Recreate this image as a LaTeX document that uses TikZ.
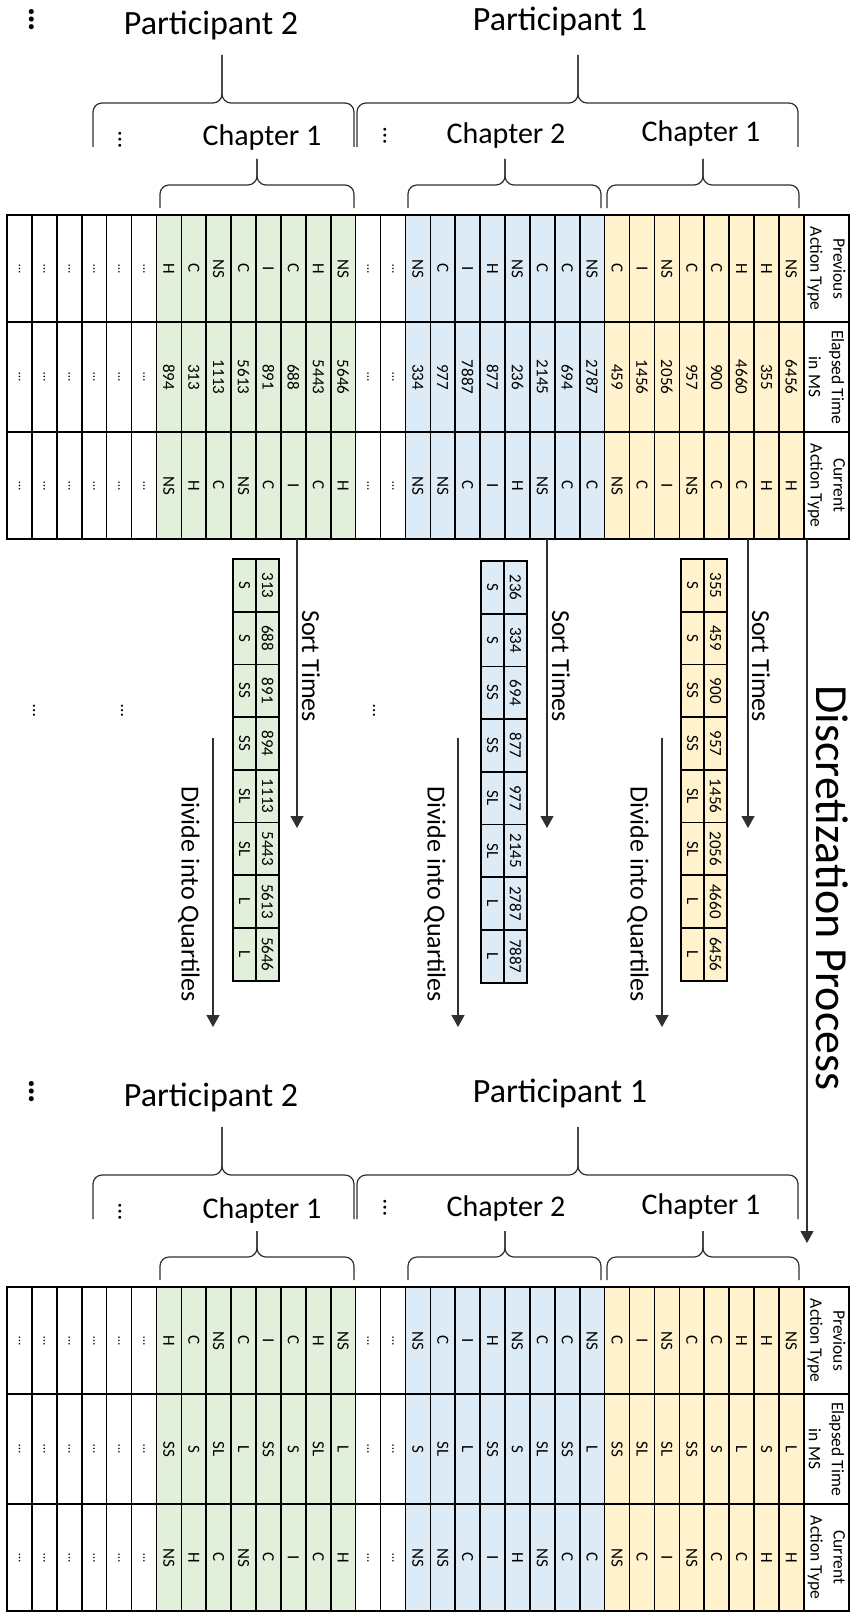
\documentclass[tikz,border=0pt]{standalone}
\usepackage{fontspec}
\setmainfont{Carlito}
\usetikzlibrary{arrows.meta}
\definecolor{cy}{HTML}{FFF2CC}
\definecolor{cb}{HTML}{DDEBF7}
\definecolor{cg}{HTML}{E2EFDA}
\definecolor{ln}{HTML}{303030}
\tikzset{
 val/.style={font=\fontsize{17}{20}\selectfont, rotate=-90, inner sep=0pt},
 sval/.style={font=\fontsize{17}{20}\selectfont, rotate=-90, inner sep=0pt},
 hdr/.style={font=\fontsize{17.5}{23}\selectfont, rotate=-90, align=center, inner sep=0pt},
 celldots/.style={font=\fontsize{13}{15}\selectfont, rotate=-90, inner sep=0pt},
 bigdots/.style={font=\fontsize{24}{28}\selectfont, rotate=-90, inner sep=0pt},
 part/.style={font=\fontsize{34}{40}\selectfont, inner sep=0pt},
 chap/.style={font=\fontsize{30}{36}\selectfont, inner sep=0pt},
 lbl/.style={font=\fontsize{26}{31}\selectfont, rotate=-90, inner sep=0pt},
 title/.style={font=\fontsize{46}{54}\selectfont, rotate=-90, inner sep=0pt},
 arr/.style={draw=ln, line width=1.3pt, -{Triangle[length=12pt,width=13pt]}},
 gridline/.style={draw=black, line width=1.6pt},
 border/.style={draw=black, line width=2pt},
 brc/.style={draw=ln, line width=1.2pt, rounded corners=9pt},
}
\newcommand\datastrip[6]{%
 \pgfmathsetmacro\xc{7+#2*24.9+12.45}%
 \fill[#3] (\xc-12.45,215) rectangle (\xc+12.45,539);
 \node[val] (#1-#2-p) at (\xc,268.5) {#4};
 \node[val] (#1-#2-e) at (\xc,377) {#5};
 \node[val] (#1-#2-c) at (\xc,485.5) {#6};
}
\newcommand\dotstrip[2]{%
 \pgfmathsetmacro\xc{7+#2*24.9+12.45}%
 \node[celldots] (#1-#2-p) at (\xc,268.5) {…};
 \node[celldots] (#1-#2-e) at (\xc,377) {…};
 \node[celldots] (#1-#2-c) at (\xc,485.5) {…};
}
\newcommand\bigtable[4]{%
 \foreach \i in {0,1,2,3,4,5,14,15} {\dotstrip{#1}{\i}}
 \foreach \p/\e/\c [count=\k from 6] in {#2} {\datastrip{#1}{\k}{cg}{\p}{\e}{\c}}
 \foreach \p/\e/\c [count=\k from 16] in {#3} {\datastrip{#1}{\k}{cb}{\p}{\e}{\c}}
 \foreach \p/\e/\c [count=\k from 24] in {#4} {\datastrip{#1}{\k}{cy}{\p}{\e}{\c}}
 \node[hdr] (#1-h1) at (826.4,268.5) {Previous\\Action Type};
 \node[hdr] (#1-h2) at (826.4,377) {Elapsed Time\\in MS};
 \node[hdr] (#1-h3) at (826.4,485.5) {Current\\Action Type};
 \foreach \i in {1,...,32} {\draw[gridline] (7+\i*24.9,215) -- (7+\i*24.9,539);}
 \draw[gridline] (7,322) -- (849,322);
 \draw[gridline] (7,432) -- (849,432);
 \draw[border] (7,215) rectangle (849,539);
}
\newcommand\smalltable[5]{%
 \foreach \n/\l [count=\k from 0] in {#5} {
  \fill[#4] (#2,#3+\k*52.7) rectangle (#2+46,#3+\k*52.7+52.7);
  \node[sval] (#1-\k-n) at (#2+34.5,#3+\k*52.7+26.35) {\n};
  \node[sval] (#1-\k-l) at (#2+11.5,#3+\k*52.7+26.35) {\l};
 }
 \foreach \k in {1,...,7} {\draw[gridline] (#2,#3+\k*52.7) -- (#2+46,#3+\k*52.7);}
 \draw[gridline] (#2+23,#3) -- (#2+23,#3+421.6);
 \draw[border] (#2,#3) rectangle (#2+46,#3+421.6);
}
\newcommand\ubrace[6]{% x1 x2 xm ybottom yhoriz ytip
 \draw[brc] (#1,#4) -- (#1,#5) -- (#3,#5) -- (#3,#6);
 \draw[brc] (#3,#6) -- (#3,#5) -- (#2,#5) -- (#2,#4);
}
\newcommand\headers[1]{%
 \node[part,font=\fontsize{34}{40}\selectfont\bfseries, rotate=-90] (#1-d0) at (32,20) {…};
 \node[part] (#1-p2) at (211,25) {Participant 2};
 \node[part] (#1-p1) at (560,21) {Participant 1};
 \ubrace{93}{354}{222}{147}{103}{55}
 \ubrace{357}{798}{578}{147}{103}{55}
 \node[bigdots] (#1-d1) at (120,140) {…};
 \node[bigdots] (#1-d2) at (385,136) {…};
 \node[chap] (#1-c21) at (262,138) {Chapter 1};
 \node[chap] (#1-c12) at (506,136) {Chapter 2};
 \node[chap] (#1-c11) at (701,134) {Chapter 1};
 \ubrace{160}{354}{257}{208}{185}{159}
 \ubrace{408}{601}{505}{208}{185}{159}
 \ubrace{607}{799}{703}{208}{185}{159}
}
\begin{document}
\begin{tikzpicture}[x=1pt,y=-1pt]
\useasboundingbox (0,0) rectangle (851,1616);
\fill[white] (0,0) rectangle (851,1616);
% top section
\headers{T}
\bigtable{T}{H/894/NS, C/313/H, NS/1113/C, C/5613/NS, I/891/C, C/688/I, H/5443/C, NS/5646/H}
 {NS/334/NS, C/977/NS, I/7887/C, H/877/I, NS/236/H, C/2145/NS, C/694/C, NS/2787/C}
 {C/459/NS, I/1456/C, NS/2056/I, C/957/NS, C/900/C, H/4660/C, H/355/H, NS/6456/H}
% sorted tables
\smalltable{SY}{681}{559}{cy}{355/S, 459/S, 900/SS, 957/SS, 1456/SL, 2056/SL, 4660/L, 6456/L}
\smalltable{SB}{481}{561}{cb}{236/S, 334/S, 694/SS, 877/SS, 977/SL, 2145/SL, 2787/L, 7887/L}
\smalltable{SG}{233}{559}{cg}{313/S, 688/S, 891/SS, 894/SS, 1113/SL, 5443/SL, 5613/L, 5646/L}
% arrows
\coordinate (sy0) at (748,539); \coordinate (sy1) at (748,828);
\coordinate (sb0) at (547,539); \coordinate (sb1) at (547,828);
\coordinate (sg0) at (297,539); \coordinate (sg1) at (297,828);
\draw[arr] (sy0) -- (sy1);
\draw[arr] (sb0) -- (sb1);
\draw[arr] (sg0) -- (sg1);
\node[lbl] (ly) at (761,666) {Sort Times};
\node[lbl] (lb) at (561,666) {Sort Times};
\node[lbl] (lg) at (311,666) {Sort Times};
\coordinate (dy0) at (662,738); \coordinate (dy1) at (662,1027);
\coordinate (db0) at (458,738); \coordinate (db1) at (458,1027);
\coordinate (dg0) at (213,738); \coordinate (dg1) at (213,1027);
\draw[arr] (dy0) -- (dy1);
\draw[arr] (db0) -- (db1);
\draw[arr] (dg0) -- (dg1);
\node[lbl] (qy) at (638,894) {Divide into Quartiles};
\node[lbl] (qb) at (435,894) {Divide into Quartiles};
\node[lbl] (qg) at (189,894) {Divide into Quartiles};
\node[bigdots,font=\fontsize{18}{22}\selectfont] (m1) at (34,711) {…};
\node[bigdots,font=\fontsize{18}{22}\selectfont] (m2) at (122,711) {…};
\node[bigdots,font=\fontsize{18}{22}\selectfont] (m3) at (374,711) {…};
\coordinate (main0) at (807,539); \coordinate (main1) at (807,1243);
\draw[arr] (main0) -- (main1);
\node[title] (ttl) at (832,888) {Discretization Process};
% bottom section
\begin{scope}[shift={(0,1072)}]
\headers{B}
\bigtable{B}{H/SS/NS, C/S/H, NS/SL/C, C/L/NS, I/SS/C, C/S/I, H/SL/C, NS/L/H}
 {NS/S/NS, C/SL/NS, I/L/C, H/SS/I, NS/S/H, C/SL/NS, C/SS/C, NS/L/C}
 {C/SS/NS, I/SL/C, NS/SL/I, C/SS/NS, C/S/C, H/L/C, H/S/H, NS/L/H}
\end{scope}
\end{tikzpicture}
\end{document}
